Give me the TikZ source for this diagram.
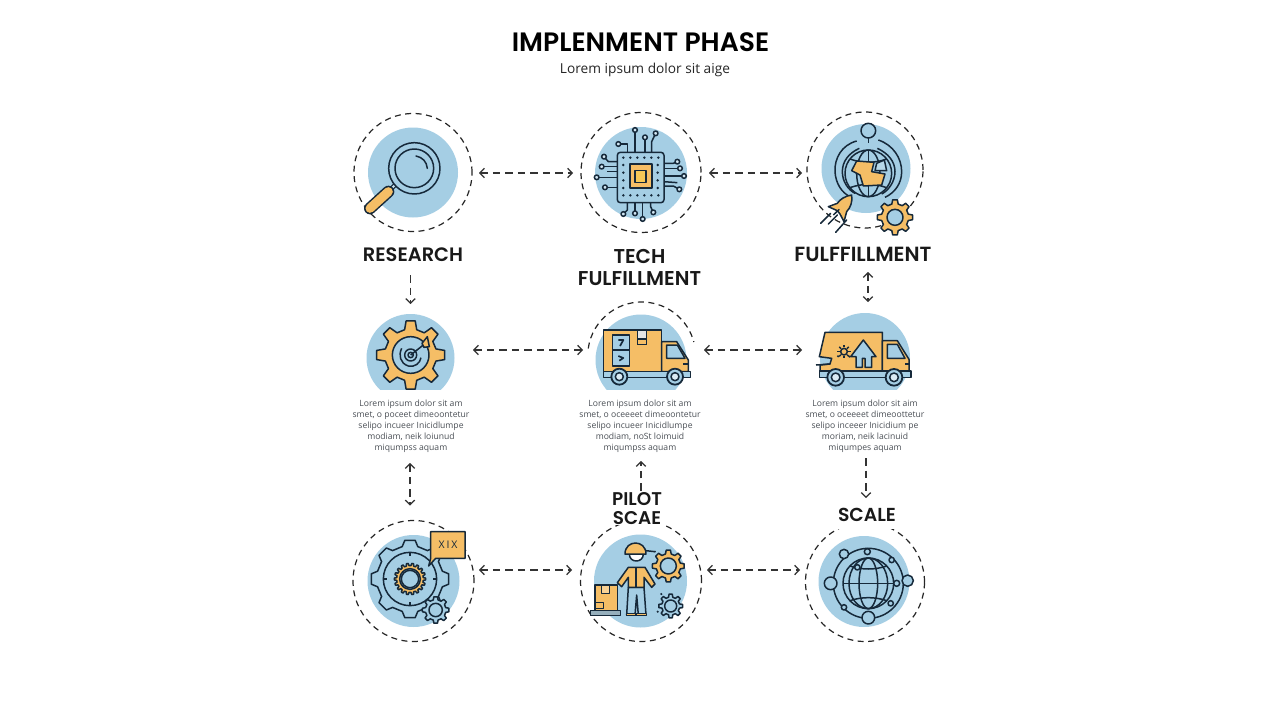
\documentclass[tikz,border=0pt]{standalone}
\usepackage{fontspec}
\usetikzlibrary{arrows.meta,calc}
\newfontfamily\headfont{Poppins SemiBold}
\newfontfamily\bodyfont{Open Sans}
\definecolor{skyb}{HTML}{A5CEE4}
\definecolor{amber}{HTML}{F5BE66}
\definecolor{ink}{HTML}{16293A}
\definecolor{bodygray}{HTML}{4A4F55}
\newcommand{\cogshape}[6]{% style, x, y, outer, root, teeth
  \begin{scope}[shift={(#2,#3)}]
    \pgfmathsetmacro\cogstep{360/#6}
    \draw[#1] ({-0.30*\cogstep}:#5)
      \foreach \i in {1,...,#6}{
        -- ({(\i-1)*\cogstep-0.30*\cogstep}:#5)
        -- ({(\i-1)*\cogstep-0.17*\cogstep}:#4)
        -- ({(\i-1)*\cogstep+0.17*\cogstep}:#4)
        -- ({(\i-1)*\cogstep+0.30*\cogstep}:#5)
      } -- cycle;
  \end{scope}}
\tikzset{
  ring/.style={circle,draw=black!85,line width=1.2pt,dash pattern=on 6pt off 4.5pt,minimum size=#1,inner sep=0pt,outer sep=0pt},
  disc/.style={circle,fill=skyb,minimum size=#1,inner sep=0pt,outer sep=0pt},
  ghost/.style={circle,minimum size=#1,inner sep=0pt,outer sep=0pt},
  headtext/.style={text=black!90,align=center,inner sep=1pt,outer sep=0pt,fill=white,text depth=0pt},
  headsize/.style 2 args={font=\headfont\fontsize{#1}{#2}\selectfont},
  bodytext/.style={font=\bodyfont\fontsize{8.6}{11}\selectfont,text=bodygray,align=center,inner sep=0pt,outer sep=0pt,minimum height=54pt},
  conn/.style={line width=1.25pt,draw=black!80,dash pattern=on 7.5pt off 5pt},
  both/.style={conn,{Straight Barb[length=4.5pt,width=9.5pt]}-{Straight Barb[length=4.5pt,width=9.5pt]}},
  fwd/.style={conn,-{Straight Barb[length=4.5pt,width=9.5pt]}},
  ic/.style={draw=ink,line width=1.5pt,line join=round},
  icb/.style={ic,fill=skyb},
  ico/.style={ic,fill=amber},
  zoomA/.style={shift={(340,100)},scale=1/3},
  zoomB/.style={shift={(700,100)},scale=1/3},
  zoomC/.style={shift={(340,290)},scale=1/3},
  zoomD/.style={shift={(690,290)},scale=1/3},
  zoomE/.style={shift={(340,480)},scale=1/3},
  zoomF/.style={shift={(700,480)},scale=1/3},
}
\begin{document}
\begin{tikzpicture}[x=1pt,y=1pt,yscale=-1]
\useasboundingbox (0,0) rectangle (1280,720);
\fill[white] (0,0) rectangle (1280,720);
% titles
\node[font=\headfont\fontsize{26.6}{30}\selectfont,text=black] (title) at (640.5,42) {IMPLENMENT PHASE};
\node[font=\bodyfont\fontsize{13.7}{16}\selectfont,text=black!85] (subtitle) at (645,70) {Lorem ipsum dolor sit aige};
% discs and rings
\node[disc=90pt] (d11) at (413,172.5) {};
\node[ring=118pt] (n11) at (413,172.5) {};
\node[disc=92pt] (d12) at (641,173) {};
\node[ring=120pt] (n12) at (641,172.5) {};
\node[disc=89pt] (d13) at (866,168.5) {};
\node[ring=116pt] (n13) at (865,170) {};
\begin{scope}
  \clip (300,290) rectangle (1000,389);
  \fill[skyb] (410.5,358) circle (44);
  \fill[skyb] (641,360) circle (45.5);
  \fill[skyb] (865,358) circle (45);
\end{scope}
\node[ghost=88pt] (n21) at (410.5,358) {};
\node[ghost=108pt] (n22) at (641.7,356) {};
\node[ghost=90pt] (n23) at (865,358) {};
\draw[line width=1.2pt,draw=black!85,dash pattern=on 6pt off 4.5pt] (n22.172) arc (-172:-15:54);
\node[disc=92pt] (d31) at (413.5,581) {};
\node[ring=121pt] (n31) at (413.5,581) {};
\node[disc=93pt] (d32) at (640.5,581) {};
\node[ring=121pt] (n32) at (641,581) {};
\node[disc=91pt] (d33) at (864,581.5) {};
\node[ring=119pt] (n33) at (865,582) {};

% ---- magnifier
\begin{scope}[zoomA]
  \draw[ink,line width=4.5pt] (172,248) -- (152,268);
  \draw[skyb!60!white,line width=1.8pt] (172,248) -- (156,264);
  \draw[ink,line width=12pt,line cap=round] (145,275) -- (90,325);
  \draw[amber,line width=9pt,line cap=round] (145,275) -- (90,325);
  \draw[icb] (223,205) circle (77);
  \draw[ic] (223,205) circle (58);
  \draw[ic,line cap=round] (228,168) .. controls (248,172) and (260,185) .. (262,205);
% ---- chip
  \foreach \a/\b/\c/\d/\e/\f in {885/157/885/120/885/90, 862/157/862/132/835/132, 915/157/915/130/915/112, 935/157/935/125/947/100,
     832/185/805/185/792/170, 832/200/810/200/785/200, 832/232/800/232/770/232, 832/262/810/262/795/262,
     972/190/1000/190/1012/185, 972/205/1000/205/1020/205, 972/228/1010/228/1032/228, 972/258/1000/258/1018/268,
     862/308/862/330/850/342, 885/308/885/325/885/340, 908/308/908/335/908/357, 932/308/932/320/940/337}{
    \draw[ic] (\a,\b) -- (\c,\d) -- (\e,\f);
    \draw[ic,fill=skyb!50!white] (\e,\f) circle (7);
  }
  \draw[ic] (832,215) -- (800,215);
  \draw[ic] (972,245) -- (1012,248);
  \draw[icb,rounded corners=3pt] (832,157) rectangle (972,308);
  \foreach \x in {850,871,892,913,934,955}{
    \fill[ink] (\x,173) circle (4.2);
    \fill[ink] (\x,286) circle (4.2);
  }
  \foreach \y in {195,218,241,264}{
    \fill[ink] (850,\y) circle (4.2);
    \fill[ink] (953,\y) circle (4.2);
  }
  \draw[ico,line width=1.8pt] (870,192) rectangle (935,265);
  \draw[ic,fill=amber!85!yellow] (885,212) rectangle (918,247);
\end{scope}

% ---- orbit globe
\begin{scope}[zoomB]
  \draw[icb] (505,92) circle (22);
  \draw[ic] (505,114) -- (505,128);
  \draw[ic] (470,123) .. controls (425,135) and (403,175) .. (405,215) .. controls (407,250) and (425,278) .. (450,290);
  \draw[ic] (535,120) .. controls (580,135) and (605,175) .. (605,215) .. controls (605,250) and (585,278) .. (555,292);
  \draw[ic] (478,145) .. controls (445,160) and (427,185) .. (427,215) .. controls (427,245) and (445,270) .. (465,280);
  \draw[ic] (532,145) .. controls (565,160) and (585,185) .. (585,215) .. controls (585,245) and (565,272) .. (545,282);
  \draw[icb] (505,220) circle (70);
  \draw[ic] (505,220) ellipse (35 and 70);
  \draw[ic] (505,150) -- (505,290);
  \draw[ic] (450,177) .. controls (485,190) and (525,190) .. (560,177);
  \draw[ic] (450,263) .. controls (485,250) and (525,250) .. (560,263);
  \draw[ico] (470,183) -- (522,187) -- (515,215) -- (555,222) -- (545,255) -- (490,258) -- (480,225) -- (455,212) -- cycle;
  \draw[ic,fill=skyb!80!white] (530,190) -- (553,180) -- (560,212) -- (525,212) -- cycle;
% ---- rocket
  \draw[ic,line cap=round] (362,370) -- (392,340);
  \draw[ic,line cap=round] (385,372) -- (412,345);
  \draw[ic,line cap=round] (407,397) -- (440,360);
  \draw[ico] (455,285) .. controls (435,288) and (420,298) .. (412,310) -- (385,320) -- (412,332) -- (420,342) -- (432,365) -- (440,335) .. controls (452,322) and (458,305) .. (455,285) -- cycle;
  \draw[ic] (400,345) -- (418,328);
  \cogshape{ico}{585}{352}{53}{41}{8}
  \draw[icb] (585,352) circle (24);
\end{scope}

% ---- gear and target
\begin{scope}[zoomC]
  \cogshape{ico}{212}{195}{103}{78}{8}
  \draw[icb] (212,195) circle (55);
  \draw[ic] (185,175) .. controls (175,195) and (180,220) .. (205,228) .. controls (225,232) and (240,220) .. (243,203);
  \draw[ic] (212,195) circle (18);
  \draw[ic] (212,195) circle (8);
  \draw[ic] (212,195) -- (250,165);
  \draw[ico] (246,160) -- (262,140) -- (268,170) -- (252,172) -- cycle;
% ---- box truck
  \draw[ico] (790,120) rectangle (965,245);
  \draw[ic,fill=white!80!gray] (893,120) rectangle (920,163);
  \draw[ico] (893,147) -- (920,147) -- (920,163) -- (893,163) -- cycle;
  \draw[icb] (818,135) rectangle (868,228);
  \draw[ic] (818,180) -- (868,180);
  \draw[ic,line width=1.7pt] (835,150) -- (850,150) -- (840,168);
  \draw[ic,line width=1.7pt] (835,198) -- (850,204) -- (838,212);
  \draw[ico] (965,155) -- (1010,155) -- (1045,210) -- (1045,245) -- (965,245) -- cycle;
  \draw[icb] (980,165) -- (1012,165) -- (1035,205) -- (980,205) -- cycle;
  \draw[ic] (1030,222) -- (1045,222);
  \draw[icb] (790,245) rectangle (1052,263);
  \foreach \x in {838,1005}{
    \draw[icb,line width=1.8pt] (\x,260) circle (24);
    \draw[ic,fill=white!60!skyb] (\x,260) circle (12);
  }
\end{scope}

% ---- delivery truck
\begin{scope}[zoomD]
  \draw[ico] (405,127) -- (577,127) -- (577,243) -- (390,243) -- (390,225) -- (420,222) -- (425,205) -- (388,200) -- cycle;
  \draw[ic] (378,225) -- (420,222);
  \draw[ico] (577,152) -- (622,152) -- (657,208) -- (657,243) -- (577,243) -- cycle;
  \draw[icb] (592,163) -- (622,163) -- (645,205) -- (592,205) -- cycle;
  \draw[ic] (645,222) -- (657,222);
  \draw[icb] (520,150) -- (558,200) -- (545,200) -- (545,232) -- (525,232) -- (525,205) -- (517,205) -- (517,232) -- (498,232) -- (498,200) -- (482,200) -- cycle;
  \draw[ic] (462,185) circle (10);
  \foreach \t in {0,45,...,315}{
    \draw[ic] ($(462,185)+(\t:13)$) -- ($(462,185)+(\t:20)$);
  }
  \fill[ink] (444,199) circle (3.5);
  \fill[ink] (478,200) circle (3.5);
  \draw[icb] (388,243) rectangle (663,263);
  \foreach \x in {437,612}{
    \draw[icb,line width=1.8pt] (\x,262) circle (25);
    \draw[ic,fill=white!60!skyb] (\x,262) circle (13);
  }
\end{scope}

% ---- cog with speech bubble
\begin{scope}[zoomE]
  \cogshape{icb}{210}{297}{117}{100}{8}
  \draw[ic] (210,297) circle (80);
  \foreach \t in {0,90,180,270}{
    \draw[ic] ($(210,297)+(\t:70)$) -- ($(210,297)+(\t:80)$);
  }
  \cogshape{ico}{210}{297}{47}{40}{18}
  \draw[icb] (210,297) circle (31);
  \draw[ic] (210,297) circle (26);
  \cogshape{icb}{287}{390}{40}{31}{8}
  \draw[icb] (287,390) circle (20);
  \draw[ico] (272,155) -- (375,155) -- (375,235) -- (287,235) -- (266,258) -- (272,235) -- cycle;
  \node[font=\bodyfont\fontsize{10.5}{13}\selectfont\addfontfeature{LetterSpace=18},text=ink,inner sep=0pt] (bubble) at (324,195) {XIX};
% ---- worker
  \draw[icb] (865,322) -- (912,322) -- (918,405) -- (895,405) -- (890,345) -- (885,405) -- (860,405) -- cycle;
  \draw[ico] (860,400) rectangle (888,407);
  \draw[ico] (888,400) rectangle (920,407);
  \draw[ico] (865,262) -- (915,262) -- (945,312) -- (935,322) -- (912,292) -- (912,322) -- (865,322) -- (865,292) -- (845,320) -- (832,308) -- cycle;
  \draw[ic] (888,262) -- (888,322);
  \fill[ink] (888,285) circle (2.5);
  \fill[ink] (888,305) circle (2.5);
  \draw[ic,fill=white] (868,222) .. controls (868,250) and (910,250) .. (910,222) -- cycle;
  \draw[ico] (855,222) .. controls (855,178) and (918,178) .. (918,222) -- cycle;
  \draw[ic] (918,212) -- (945,215);
  \fill[ink] (945,215) circle (3);
  \draw[ico] (765,315) rectangle (833,392);
  \draw[ic,fill=amber!70!white] (785,315) -- (808,315) -- (808,340) -- (785,340) -- cycle;
  \draw[ico] (765,367) rectangle (790,385);
  \draw[ic,fill=skyb!60!gray] (752,392) rectangle (842,407);
  \cogshape{ico}{985}{258}{48}{37}{8}
  \draw[icb] (985,258) circle (24);
  \cogshape{icb}{992}{378}{36}{27}{8}
  \draw[icb] (992,378) circle (18);
  \fill[ink] (964,342) circle (3.5);
  \fill[ink] (953,395) circle (3.5);
\end{scope}

% ---- network globe
\begin{scope}[zoomF]
  \draw[ic] (505,310) circle (105);
  \draw[icb] (505,310) circle (76);
  \draw[ic] (505,310) ellipse (28 and 76);
  \draw[ic] (505,310) ellipse (58 and 76);
  \draw[ic] (429,310) -- (581,310);
  \draw[ic] (450,258) .. controls (485,270) and (525,270) .. (560,258);
  \draw[ic] (450,362) .. controls (485,350) and (525,350) .. (560,362);
  \foreach \x/\y/\r in {432/222/14, 502/215/9, 575/240/8, 392/310/19, 472/262/8, 590/310/9, 623/302/17, 432/382/8, 572/370/8, 505/413/19}{
    \draw[icb] (\x,\y) circle (\r);
  }
\end{scope}

% ---- labels
\node[headtext,headsize={19.4}{22},text height=12pt] (l11) at (413,255) {RESEARCH};
\node[headtext,headsize={20}{22}] (l12) at (639.5,267) {TECH\\FULFILLMENT};
\node[headtext,headsize={20.5}{22},text height=12pt] (l13) at (863,255) {FULFFILLMENT};
\node[headtext,headsize={18.4}{19}] (l32) at (637,508) {PILOT\\SCAE};
\node[headtext,headsize={18.8}{22},text height=12pt,text depth=7pt] (l33) at (867,518.5) {SCALE};
% ---- body copy
\node[bodytext] (t21) at (411,426) {Lorem ipsum dolor sit am\\smet, o poceet dimeoontetur\\selipo incueer Inicidlumpe\\modiam, neik loiunud\\miqumpss aquam};
\node[bodytext] (t22) at (640,426) {Lorem ipsum dolor sit am\\smet, o oceeeet dimeoontetur\\selipo incueer Inicidlumpe\\modiam, noSt loimuid\\miqumpss aquam};
\node[bodytext] (t23) at (865,426) {Lorem ipsum dolor sit aim\\smet, o oceeeet dimeoottetur\\selipo inceeer Inicidium pe\\moriam, neik lacinuid\\miqumpes aquam};

% ---- connectors
\draw[both,shorten <=7pt,shorten >=8pt] ([yshift=.5pt]n11.east) -- ([yshift=.5pt]n12.west);
\draw[both,shorten <=8pt,shorten >=5pt] ([yshift=.5pt]n12.east) -- ([yshift=3pt]n13.west);
\draw[both,shorten <=18.5pt,shorten >=4.7pt] ([yshift=-8pt]n21.east) -- ([yshift=-6pt]n22.west);
\draw[both,shorten <=8.3pt,shorten >=18pt] ([yshift=-6pt]n22.east) -- ([yshift=-8pt]n23.west);
\draw[both,shorten <=5pt,shorten >=8.5pt] ([yshift=-11pt]n31.east) -- ([yshift=-11pt]n32.west);
\draw[both,shorten <=5.5pt,shorten >=5.5pt] ([yshift=-11pt]n32.east) -- ([yshift=-12pt]n33.west);
\draw[fwd,shorten <=13pt,shorten >=10pt] ([xshift=-2.5pt]l11.south) -- (n21.north);
\draw[both,shorten <=10pt,shorten >=11pt] ([xshift=5pt]l13.south) -- ([xshift=3pt]n23.north);
\draw[both,shorten <=10pt,shorten >=15pt] ([xshift=-1pt]t21.south) -- ([xshift=-3.5pt]n31.north);
\draw[fwd,shorten <=0pt,shorten >=8pt] ([xshift=4pt]l32.north) -- ([xshift=1pt]t22.south);
\draw[fwd,shorten <=5pt,shorten >=10pt] ([xshift=1pt]t23.south) -- ([xshift=-1pt]l33.north);
\end{tikzpicture}
\end{document}
